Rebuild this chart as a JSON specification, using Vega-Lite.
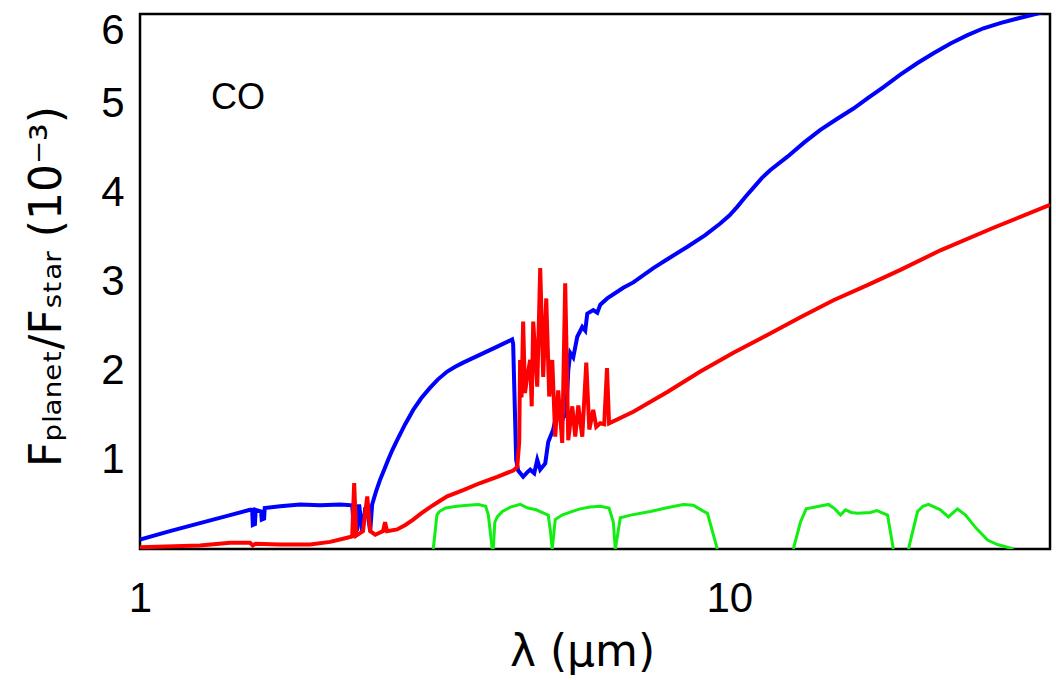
{
  "$schema": "https://vega.github.io/schema/vega-lite/v6.json",
  "width": 910,
  "height": 535,
  "autosize": {"type": "none"},
  "padding": {"left": 140, "top": 14, "right": 6, "bottom": 131},
  "background": "white",
  "config": {
    "view": {"stroke": "black", "strokeWidth": 2.5},
    "font": "Liberation Sans",
    "axis": {
      "grid": false,
      "domain": false,
      "ticks": false,
      "tickSize": 0,
      "labelColor": "black",
      "titleColor": "black",
      "labelFont": "Liberation Sans",
      "labelFontSize": 42,
      "labelFlush": false,
      "titleFontWeight": "normal"
    }
  },
  "resolve": {"axis": {"x": "independent", "y": "independent"}},
  "datasets": {
    "blue": [
      {"x": 1.0, "y": 0.105}, {"x": 1.124, "y": 0.2}, {"x": 1.264, "y": 0.29}, {"x": 1.422, "y": 0.38},
      {"x": 1.537, "y": 0.44}, {"x": 1.55, "y": 0.44}, {"x": 1.554, "y": 0.27}, {"x": 1.567, "y": 0.28},
      {"x": 1.571, "y": 0.44}, {"x": 1.605, "y": 0.42}, {"x": 1.609, "y": 0.33}, {"x": 1.624, "y": 0.34},
      {"x": 1.628, "y": 0.46}, {"x": 1.729, "y": 0.48}, {"x": 1.869, "y": 0.5}, {"x": 2.021, "y": 0.49},
      {"x": 2.186, "y": 0.5}, {"x": 2.291, "y": 0.49}, {"x": 2.309, "y": 0.18}, {"x": 2.336, "y": 0.22},
      {"x": 2.354, "y": 0.5}, {"x": 2.382, "y": 0.2}, {"x": 2.41, "y": 0.45}, {"x": 2.429, "y": 0.45},
      {"x": 2.458, "y": 0.2}, {"x": 2.477, "y": 0.5}, {"x": 2.516, "y": 0.65}, {"x": 2.556, "y": 0.78},
      {"x": 2.6, "y": 0.9}, {"x": 2.637, "y": 1.0}, {"x": 2.68, "y": 1.11}, {"x": 2.731, "y": 1.22},
      {"x": 2.818, "y": 1.4}, {"x": 2.908, "y": 1.56}, {"x": 3.0, "y": 1.69}, {"x": 3.107, "y": 1.81},
      {"x": 3.2, "y": 1.9}, {"x": 3.321, "y": 1.99}, {"x": 3.42, "y": 2.04}, {"x": 3.535, "y": 2.09},
      {"x": 3.778, "y": 2.18}, {"x": 4.038, "y": 2.27}, {"x": 4.28, "y": 2.35}, {"x": 4.297, "y": 2.3},
      {"x": 4.348, "y": 1.0}, {"x": 4.382, "y": 0.88}, {"x": 4.468, "y": 0.81}, {"x": 4.539, "y": 0.86},
      {"x": 4.593, "y": 0.89}, {"x": 4.666, "y": 0.85}, {"x": 4.721, "y": 1.0}, {"x": 4.776, "y": 0.89},
      {"x": 4.871, "y": 0.96}, {"x": 4.928, "y": 1.2}, {"x": 5.025, "y": 1.34}, {"x": 5.124, "y": 1.6},
      {"x": 5.185, "y": 1.4}, {"x": 5.225, "y": 1.48}, {"x": 5.287, "y": 1.5}, {"x": 5.329, "y": 2.0},
      {"x": 5.371, "y": 2.2}, {"x": 5.434, "y": 2.15}, {"x": 5.52, "y": 2.38}, {"x": 5.629, "y": 2.49},
      {"x": 5.695, "y": 2.45}, {"x": 5.74, "y": 2.64}, {"x": 5.876, "y": 2.68}, {"x": 5.969, "y": 2.65},
      {"x": 6.039, "y": 2.74}, {"x": 6.206, "y": 2.81}, {"x": 6.607, "y": 2.93}, {"x": 6.871, "y": 2.99},
      {"x": 7.43, "y": 3.15}, {"x": 7.848, "y": 3.25}, {"x": 8.49, "y": 3.39}, {"x": 9.1, "y": 3.52},
      {"x": 9.65, "y": 3.65}, {"x": 10.0, "y": 3.74}, {"x": 10.32, "y": 3.84}, {"x": 10.65, "y": 3.95},
      {"x": 10.98, "y": 4.05}, {"x": 11.35, "y": 4.16}, {"x": 11.74, "y": 4.25}, {"x": 12.55, "y": 4.4},
      {"x": 13.4, "y": 4.56}, {"x": 14.27, "y": 4.7}, {"x": 15.2, "y": 4.82}, {"x": 16.24, "y": 4.94},
      {"x": 17.2, "y": 5.06}, {"x": 18.26, "y": 5.18}, {"x": 19.5, "y": 5.32}, {"x": 20.86, "y": 5.45},
      {"x": 22.2, "y": 5.56}, {"x": 23.73, "y": 5.67}, {"x": 25.3, "y": 5.76}, {"x": 26.99, "y": 5.84},
      {"x": 28.9, "y": 5.9}, {"x": 30.83, "y": 5.95}, {"x": 33.08, "y": 6.0}, {"x": 35.0, "y": 6.04}
    ],
    "red": [
      {"x": 1.0, "y": 0.02}, {"x": 1.264, "y": 0.04}, {"x": 1.422, "y": 0.07}, {"x": 1.537, "y": 0.07},
      {"x": 1.554, "y": 0.04}, {"x": 1.571, "y": 0.06}, {"x": 1.729, "y": 0.05}, {"x": 1.944, "y": 0.05},
      {"x": 2.102, "y": 0.08}, {"x": 2.229, "y": 0.12}, {"x": 2.291, "y": 0.14}, {"x": 2.309, "y": 0.74},
      {"x": 2.327, "y": 0.15}, {"x": 2.39, "y": 0.2}, {"x": 2.43, "y": 0.59}, {"x": 2.458, "y": 0.2},
      {"x": 2.507, "y": 0.16}, {"x": 2.585, "y": 0.2}, {"x": 2.605, "y": 0.3}, {"x": 2.625, "y": 0.2},
      {"x": 2.731, "y": 0.22}, {"x": 2.82, "y": 0.27}, {"x": 2.908, "y": 0.33}, {"x": 3.0, "y": 0.4},
      {"x": 3.107, "y": 0.47}, {"x": 3.21, "y": 0.53}, {"x": 3.321, "y": 0.59}, {"x": 3.535, "y": 0.66},
      {"x": 3.778, "y": 0.74}, {"x": 4.038, "y": 0.81}, {"x": 4.297, "y": 0.88},
      {"x": 4.366, "y": 0.92}, {"x": 4.4, "y": 1.2}, {"x": 4.415, "y": 2.12}, {"x": 4.44, "y": 1.7},
      {"x": 4.468, "y": 2.55}, {"x": 4.5, "y": 1.75},
      {"x": 4.539, "y": 1.93}, {"x": 4.593, "y": 2.12}, {"x": 4.62, "y": 1.6}, {"x": 4.647, "y": 2.55}, {"x": 4.721, "y": 1.82},
      {"x": 4.776, "y": 3.15}, {"x": 4.832, "y": 1.93}, {"x": 4.89, "y": 2.81}, {"x": 4.947, "y": 1.71},
      {"x": 5.006, "y": 2.12}, {"x": 5.065, "y": 1.26}, {"x": 5.124, "y": 1.78}, {"x": 5.205, "y": 1.19},
      {"x": 5.266, "y": 2.98}, {"x": 5.329, "y": 1.22}, {"x": 5.413, "y": 1.6}, {"x": 5.477, "y": 1.26},
      {"x": 5.542, "y": 1.61}, {"x": 5.629, "y": 1.26}, {"x": 5.718, "y": 2.09}, {"x": 5.786, "y": 1.34},
      {"x": 5.876, "y": 1.56}, {"x": 5.945, "y": 1.37}, {"x": 6.039, "y": 1.41}, {"x": 6.133, "y": 1.4},
      {"x": 6.2, "y": 2.03}, {"x": 6.25, "y": 1.41}, {"x": 6.871, "y": 1.54}, {"x": 7.848, "y": 1.76},
      {"x": 8.929, "y": 1.99}, {"x": 10.16, "y": 2.2}, {"x": 11.6, "y": 2.4}, {"x": 13.2, "y": 2.6},
      {"x": 15.02, "y": 2.79}, {"x": 17.15, "y": 2.96}, {"x": 19.51, "y": 3.13}, {"x": 22.81, "y": 3.35},
      {"x": 28.0, "y": 3.6}, {"x": 35.0, "y": 3.86}
    ],
    "green": [
      {"band": 1, "x": 3.145, "y": 0}, {"band": 1, "x": 3.19, "y": 0.38}, {"band": 1, "x": 3.22, "y": 0.42},
      {"band": 1, "x": 3.3, "y": 0.46}, {"band": 1, "x": 3.45, "y": 0.48}, {"band": 1, "x": 3.6, "y": 0.49},
      {"band": 1, "x": 3.75, "y": 0.5}, {"band": 1, "x": 3.86, "y": 0.48}, {"band": 1, "x": 3.9, "y": 0.38},
      {"band": 1, "x": 3.96, "y": 0},
      {"band": 2, "x": 3.976, "y": 0}, {"band": 2, "x": 4.0, "y": 0.3}, {"band": 2, "x": 4.038, "y": 0.36},
      {"band": 2, "x": 4.12, "y": 0.42}, {"band": 2, "x": 4.25, "y": 0.47}, {"band": 2, "x": 4.418, "y": 0.5},
      {"band": 2, "x": 4.55, "y": 0.46}, {"band": 2, "x": 4.7, "y": 0.44}, {"band": 2, "x": 4.85, "y": 0.4},
      {"band": 2, "x": 4.928, "y": 0.38}, {"band": 2, "x": 4.97, "y": 0.2}, {"band": 2, "x": 5.006, "y": 0},
      {"band": 3, "x": 5.006, "y": 0}, {"band": 3, "x": 5.065, "y": 0.33}, {"band": 3, "x": 5.2, "y": 0.38},
      {"band": 3, "x": 5.4, "y": 0.42}, {"band": 3, "x": 5.585, "y": 0.45}, {"band": 3, "x": 5.8, "y": 0.47},
      {"band": 3, "x": 6.039, "y": 0.48}, {"band": 3, "x": 6.25, "y": 0.46}, {"band": 3, "x": 6.355, "y": 0.3},
      {"band": 3, "x": 6.405, "y": 0},
      {"band": 4, "x": 6.405, "y": 0}, {"band": 4, "x": 6.531, "y": 0.35}, {"band": 4, "x": 6.8, "y": 0.38},
      {"band": 4, "x": 7.343, "y": 0.42}, {"band": 4, "x": 7.8, "y": 0.46}, {"band": 4, "x": 8.354, "y": 0.5},
      {"band": 4, "x": 8.688, "y": 0.49}, {"band": 4, "x": 9.0, "y": 0.43}, {"band": 4, "x": 9.18, "y": 0.4},
      {"band": 4, "x": 9.54, "y": 0},
      {"band": 5, "x": 12.84, "y": 0}, {"band": 5, "x": 13.2, "y": 0.3}, {"band": 5, "x": 13.5, "y": 0.45},
      {"band": 5, "x": 14.2, "y": 0.48}, {"band": 5, "x": 14.73, "y": 0.5}, {"band": 5, "x": 15.1, "y": 0.45},
      {"band": 5, "x": 15.44, "y": 0.38}, {"band": 5, "x": 15.74, "y": 0.44}, {"band": 5, "x": 16.1, "y": 0.41},
      {"band": 5, "x": 16.5, "y": 0.4}, {"band": 5, "x": 17.35, "y": 0.41}, {"band": 5, "x": 17.8, "y": 0.43},
      {"band": 5, "x": 18.55, "y": 0.38}, {"band": 5, "x": 18.98, "y": 0},
      {"band": 6, "x": 20.13, "y": 0}, {"band": 6, "x": 20.86, "y": 0.42}, {"band": 6, "x": 21.3, "y": 0.48},
      {"band": 6, "x": 21.77, "y": 0.5}, {"band": 6, "x": 22.81, "y": 0.44}, {"band": 6, "x": 23.53, "y": 0.36},
      {"band": 6, "x": 24.38, "y": 0.45}, {"band": 6, "x": 25.16, "y": 0.38}, {"band": 6, "x": 26.17, "y": 0.24},
      {"band": 6, "x": 27.42, "y": 0.1}, {"band": 6, "x": 28.51, "y": 0.05}, {"band": 6, "x": 30.35, "y": 0}
    ],
    "label": [{"x": 1.32, "y": 4.94, "text": "CO"}]
  },
  "layer": [
    {
      "data": {"name": "blue"},
      "mark": {"type": "line", "color": "#0000ff", "strokeWidth": 4, "clip": true},
      "encoding": {
        "x": {
          "field": "x", "type": "quantitative",
          "scale": {"type": "log", "domain": [1, 35], "nice": false},
          "axis": {
            "orient": "bottom", "values": [1, 10], "format": "d",
            "ticks": false, "tickSize": 0,
            "labelPadding": 62, "labelBaseline": "alphabetic",
            "title": "λ (μm)", "titleFont": "DejaVu Sans", "titleFontSize": 44,
            "titleX": 442, "titleY": 116, "titleBaseline": "alphabetic", "titleAlign": "center"
          }
        },
        "y": {
          "field": "y", "type": "quantitative",
          "scale": {"domain": [0, 6], "nice": false, "zero": false},
          "axis": {
            "orient": "left", "values": [1, 2, 3, 4, 5], "format": "d",
            "ticks": false, "tickSize": 0,
            "labelPadding": 16, "labelBaseline": "middle", "labelAlign": "right",
            "title": "Fₚₗₐₙₑₜ/Fₛₜₐᵣ (10⁻³)", "titleFont": "DejaVu Sans", "titleFontSize": 44,
            "titleAngle": -90, "titleX": -80, "titleY": 272, "titleBaseline": "alphabetic", "titleAlign": "center"
          }
        }
      }
    },
    {
      "data": {"name": "red"},
      "mark": {"type": "line", "color": "#ff0000", "strokeWidth": 4, "clip": true},
      "encoding": {
        "x": {
          "field": "x", "type": "quantitative",
          "scale": {"type": "log", "domain": [1, 35], "nice": false},
          "axis": null
        },
        "y": {
          "field": "y", "type": "quantitative",
          "scale": {"domain": [0, 6], "nice": false, "zero": false},
          "axis": {
            "orient": "left", "values": [6], "format": "d", "ticks": false, "tickSize": 0,
            "labelPadding": 16, "labelOffset": 16,
            "labelBaseline": "middle", "labelAlign": "right", "title": null
          }
        }
      }
    },
    {
      "data": {"name": "green"},
      "mark": {"type": "line", "color": "#11ee11", "strokeWidth": 3, "clip": true},
      "encoding": {
        "detail": {"field": "band", "type": "nominal"},
        "x": {"field": "x", "type": "quantitative", "scale": {"type": "log", "domain": [1, 35], "nice": false}, "axis": null},
        "y": {"field": "y", "type": "quantitative", "scale": {"domain": [0, 6], "nice": false, "zero": false}, "axis": null}
      }
    },
    {
      "data": {"name": "label"},
      "mark": {"type": "text", "align": "left", "baseline": "alphabetic", "fontSize": 36, "font": "Liberation Sans", "color": "black"},
      "encoding": {
        "text": {"field": "text"},
        "x": {"field": "x", "type": "quantitative", "scale": {"type": "log", "domain": [1, 35], "nice": false}, "axis": null},
        "y": {"field": "y", "type": "quantitative", "scale": {"domain": [0, 6], "nice": false, "zero": false}, "axis": null}
      }
    }
  ]
}
